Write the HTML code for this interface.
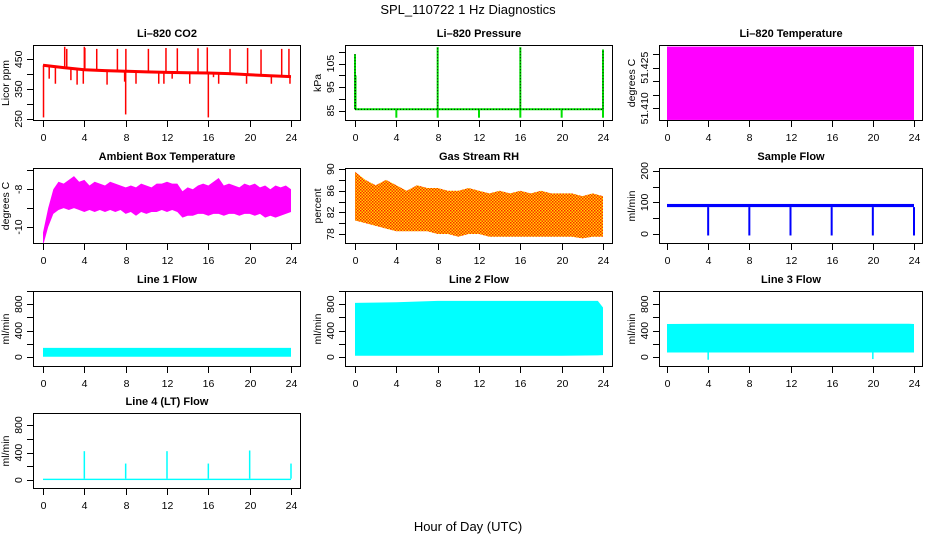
<!DOCTYPE html>
<html><head><meta charset="utf-8"><style>
html,body{margin:0;padding:0;background:#fff;}
svg{display:block;font-family:"Liberation Sans",Arial,sans-serif;}
</style></head><body>
<svg id="c" width="936" height="540" viewBox="0 0 936 540" xmlns="http://www.w3.org/2000/svg">
<defs>
<pattern id="rhpat" width="3" height="3" patternUnits="userSpaceOnUse">
<rect width="3" height="3" fill="#ffd800"/><rect width="1.5" height="1.5" fill="#ff2000"/><rect x="1.5" y="1.5" width="1.5" height="1.5" fill="#ff3000"/>
</pattern>
</defs>
<text x="468" y="14" font-size="13" text-anchor="middle">SPL_110722  1 Hz Diagnostics</text>
<text x="468" y="531" font-size="13" text-anchor="middle">Hour of Day (UTC)</text>
</svg>
<script>
// ---- data ----
const xTicks = [0,4,8,12,16,20,24];
const co2BaseHours = [0,2,4,6,8,10,12,14,16,18,20,22,24];
const co2BaseVals = [430,422,415,412,410,408,406,405,404,402,398,395,392];
const co2SpikeHours = [0.05,2.1,2.3,4.0,4.05,5.2,7.2,8.0,8.02,10.2,11.9,13.0,15.0,15.9,16.0,18.1,19.8,21.1,23.1,23.8];
const co2SpikeVals = [255,492,485,492,488,485,485,265,485,485,488,487,487,490,255,485,488,483,485,485];
const co2DipHours = [0.6,1.2,2.7,3.3,3.9,6.2,7.9,9.0,11.2,11.7,12.5,14.2,16.5,17.0,19.7,22.1,23.9];
const co2DipVals = [385,368,380,365,368,365,375,368,368,368,385,368,390,368,368,368,368];
const presBase = 85.6;
const presSpikeHours = [0,0.05,8,16,24];
const presSpikeVals = [109,100,112,112,111];
const presDipHours = [4,8,12,16,20,24];
const presDipVals = [82,82,82,82,82,82];
const tempRange = [51.4057,51.4328];
const ambHours = [0,0.5,1,1.5,2,2.5,3,3.5,4,4.5,5,5.5,6,6.5,7,7.5,8,8.5,9,9.5,10,10.5,11,11.5,12,12.5,13,13.5,14,14.5,15,15.5,16,16.5,17,17.5,18,18.5,19,19.5,20,20.5,21,21.5,22,22.5,23,23.5,24];
const ambHi = [-10.3,-9.0,-8.0,-7.6,-7.7,-7.5,-7.3,-7.6,-7.5,-7.8,-7.6,-7.7,-7.8,-7.6,-7.7,-7.8,-7.9,-7.8,-7.9,-7.7,-7.8,-7.9,-7.7,-7.7,-7.6,-7.7,-7.7,-8.1,-7.9,-8.0,-7.8,-7.7,-7.8,-7.6,-7.4,-7.8,-7.7,-7.8,-7.9,-7.7,-7.8,-7.7,-7.9,-7.8,-8.0,-7.8,-7.9,-7.8,-8.0];
const ambLo = [-11.0,-10.0,-9.3,-9.1,-9.0,-9.1,-9.0,-9.1,-9.2,-9.1,-9.2,-9.1,-9.2,-9.1,-9.2,-9.1,-9.3,-9.2,-9.4,-9.2,-9.3,-9.2,-9.2,-9.1,-9.2,-9.1,-9.2,-9.5,-9.4,-9.4,-9.3,-9.3,-9.4,-9.3,-9.3,-9.4,-9.3,-9.3,-9.4,-9.3,-9.3,-9.4,-9.3,-9.5,-9.4,-9.5,-9.4,-9.3,-9.2];
const rhHours = [0,1,2,3,4,5,6,7,8,9,10,11,12,13,14,15,16,17,18,19,20,21,22,23,24];
const rhHi = [89.5,88,87,88,87,86,87,86.5,86.5,86,86,86.5,86,85.5,86,85.5,86,85.5,86,85.5,85.5,85.5,85,85.5,85];
const rhLo = [80.5,80,79.5,79,78.5,78.5,78.5,78.5,78,78,77.5,78,78,77.5,77.5,77.5,77.5,77.5,77.5,77.5,77.5,77.5,77.2,77.5,77.5];
const sfBand = [85,95];
const sfDipHours = [4,8,12,16,20,24];
const sfDipVals = [-5,-5,-5,-5,-5,-5];
const flowHours = [0,4,8,12,16,20,23.5,24];
const line1Hi = [140,140,140,140,140,140,140,140];
const line1Lo = [5,5,5,5,5,5,5,5];
const line2Hi = [820,830,850,850,850,850,850,750];
const line2Lo = [20,20,20,20,20,20,25,30];
const line3Hi = [500,505,505,505,505,505,505,500];
const line3Lo = [70,70,70,70,70,70,70,70];
const line3DipHours = [4,20];
const line3DipVals = [-40,-30];
const line4Base = [0,20];
const line4SpikeHours = [4,8,12,16,20,24];
const line4SpikeVals = [420,240,420,240,430,240];

const svg = document.getElementById('c');
const NS = 'http://www.w3.org/2000/svg';
function mk(tag, attrs, parent){ const e=document.createElementNS(NS,tag); for(const k in attrs) e.setAttribute(k,attrs[k]); (parent||svg).appendChild(e); return e; }

const cols = [{l:33,r:301,x0:43,x24:291},{l:345,r:613,x0:355,x24:603},{l:659,r:923,x0:667,x24:914}];
const rows = [{t:45,b:121},{t:168,b:244},{t:291,b:367},{t:413,b:489}];

function panel(name, title, ylab, ci, ri, ylim, yticks, ylabels, draw){
  const c=cols[ci], r=rows[ri];
  const g = mk('g',{});
  
  
  const sx = h => c.x0 + (c.x24-c.x0)*h/24;
  const sy = v => r.b - (v-ylim[0])/(ylim[1]-ylim[0])*(r.b-r.t);
  const clipId='clip'+ci+ri;
  const cp=mk('clipPath',{id:clipId},g); mk('rect',{x:c.l,y:r.t,width:c.r-c.l,height:r.b-r.t},cp);
  const dg = mk('g',{'clip-path':'url(#'+clipId+')'},g);
  
  
  draw(dg,sx,sy);
  const box = mk('rect',{x:c.l+0.5,y:r.t+0.5,width:c.r-c.l-1,height:r.b-r.t-1,fill:'none',stroke:'#000','stroke-width':1},g);
  
  
  const t = mk('text',{x:(c.l+c.r)/2,y:r.t-8,'font-size':11,'font-weight':'bold','text-anchor':'middle'},g);
  t.textContent=title;
  
  
  xTicks.forEach(h=>{
    const x=Math.round(sx(h))+0.5;
    mk('line',{x1:x,x2:x,y1:r.b,y2:r.b+6,stroke:'#000'},g);
    const tl=mk('text',{x:x,y:r.b+20,'font-size':10.5,'text-anchor':'middle'},g);
    tl.textContent=h;
    
    
  });
  yticks.forEach(v=>{
    const y=Math.round(sy(v))+0.5;
    if(y<r.t-1||y>r.b+1) return;
    mk('line',{x1:c.l-6,x2:c.l,y1:y,y2:y,stroke:'#000'},g);
  });
  ylabels.forEach(v=>{
    const y=sy(v), x=c.l-11;
    const tl=mk('text',{x:x,y:y,'font-size':10.5,'text-anchor':'middle',transform:'rotate(-90 '+x+' '+y+')'},g);
    tl.textContent=v;
    
    
  });
  const yx=c.l-24, yy=(r.t+r.b)/2;
  const yl=mk('text',{x:yx,y:yy,'font-size':10.5,'text-anchor':'middle',transform:'rotate(-90 '+yx+' '+yy+')'},g);
  yl.textContent=ylab;
  
  
}
function band(g,sx,sy,hours,hi,lo,fill){
  let pts=[];
  hours.forEach((h,i)=>pts.push(sx(h)+','+sy(hi[i])));
  for(let i=hours.length-1;i>=0;i--) pts.push(sx(hours[i])+','+sy(lo[i]));
  return mk('polygon',{points:pts.join(' '),fill:fill},g);
}
function vlines(g,sx,sy,hours,vals,from,col,w){
  hours.forEach((h,i)=>{ const l=mk('line',{x1:sx(h),x2:sx(h),y1:sy(from(h)),y2:sy(vals[i]),stroke:col,'stroke-width':w},g);
      });
}
function interp(hs,vs,h){ for(let i=0;i<hs.length-1;i++){ if(h<=hs[i+1]) return vs[i]+(vs[i+1]-vs[i])*(h-hs[i])/(hs[i+1]-hs[i]); } return vs[vs.length-1]; }

panel('co2','Li\u2013820 CO2','Licor ppm',0,0,[243,498],[250,300,350,400,450],[250,350,450],(g,sx,sy)=>{
  const pts=co2BaseHours.map((h,i)=>sx(h)+','+sy(co2BaseVals[i])).join(' ');
  mk('polyline',{points:pts,fill:'none',stroke:'#ff0000','stroke-width':3},g);
  const base=h=>interp(co2BaseHours,co2BaseVals,h);
  vlines(g,sx,sy,co2SpikeHours,co2SpikeVals,base,'#ff0000',1.5);
  vlines(g,sx,sy,co2DipHours,co2DipVals,base,'#ff0000',1.5);
});
panel('pressure','Li\u2013820 Pressure','kPa',1,0,[80.6,112.9],[85,90,95,100,105,110],[85,95,105],(g,sx,sy)=>{
  mk('line',{x1:sx(0),x2:sx(24),y1:sy(presBase),y2:sy(presBase),stroke:'#00e000','stroke-width':2},g);
  vlines(g,sx,sy,presSpikeHours,presSpikeVals,()=>presBase,'#00e000',2);
  vlines(g,sx,sy,presDipHours,presDipVals,()=>presBase,'#00e000',2);
  mk('line',{x1:sx(0),x2:sx(24),y1:sy(presBase),y2:sy(presBase),stroke:'#000','stroke-width':1,'stroke-dasharray':'1,2'},g);
  presSpikeHours.forEach((h,i)=>mk('line',{x1:sx(h),x2:sx(h),y1:sy(presBase),y2:sy(presSpikeVals[i]),stroke:'#000','stroke-dasharray':'1,2'},g));
});
panel('li820-temperature','Li\u2013820 Temperature','degrees C',2,0,[51.40531,51.4334],[51.410,51.415,51.420,51.425,51.430],['51.410','51.425'],(g,sx,sy)=>{
  mk('rect',{x:sx(0),y:sy(tempRange[1]),width:sx(24)-sx(0),height:sy(tempRange[0])-sy(tempRange[1]),fill:'#ff00ff'},g);
});
panel('ambient-temperature','Ambient Box Temperature','degrees C',0,1,[-10.9,-6.87],[-10,-9,-8,-7],[-10,-8],(g,sx,sy)=>{
  band(g,sx,sy,ambHours,ambHi,ambLo,'#ff00ff');
});
panel('gas-stream-rh','Gas Stream RH','percent',1,1,[76.15,90.2],[78,80,82,84,86,88,90],[78,82,86,90],(g,sx,sy)=>{
  band(g,sx,sy,rhHours,rhHi,rhLo,'url(#rhpat)');
});
panel('sample-flow','Sample Flow','ml/min',2,1,[-32,209],[0,50,100,150,200],[0,100,200],(g,sx,sy)=>{
  mk('rect',{x:sx(0),y:sy(sfBand[1]),width:sx(24)-sx(0),height:sy(sfBand[0])-sy(sfBand[1]),fill:'#0000ff'},g);
  vlines(g,sx,sy,sfDipHours,sfDipVals,()=>sfBand[0],'#0000ff',2);
});
const flowTicks=[0,200,400,600,800,1000], flowLabels=[0,400,800];
panel('line1-flow','Line 1 Flow','ml/min',0,2,[-150,1000],flowTicks,flowLabels,(g,sx,sy)=>{
  band(g,sx,sy,flowHours,line1Hi,line1Lo,'#00ffff');
});
panel('line2-flow','Line 2 Flow','ml/min',1,2,[-150,1000],flowTicks,flowLabels,(g,sx,sy)=>{
  band(g,sx,sy,flowHours,line2Hi,line2Lo,'#00ffff');
});
panel('line3-flow','Line 3 Flow','ml/min',2,2,[-150,1000],flowTicks,flowLabels,(g,sx,sy)=>{
  band(g,sx,sy,flowHours,line3Hi,line3Lo,'#00ffff');
  vlines(g,sx,sy,line3DipHours,line3DipVals,()=>line3Lo[0],'#00ffff',1.5);
});
panel('line4-flow','Line 4 (LT) Flow','ml/min',0,3,[-130,975],flowTicks,flowLabels,(g,sx,sy)=>{
  mk('rect',{x:sx(0),y:sy(line4Base[1]),width:sx(24)-sx(0),height:sy(line4Base[0])-sy(line4Base[1]),fill:'#00ffff'},g);
  vlines(g,sx,sy,line4SpikeHours,line4SpikeVals,()=>line4Base[1],'#00ffff',1.5);
});
</script>
</body></html>
